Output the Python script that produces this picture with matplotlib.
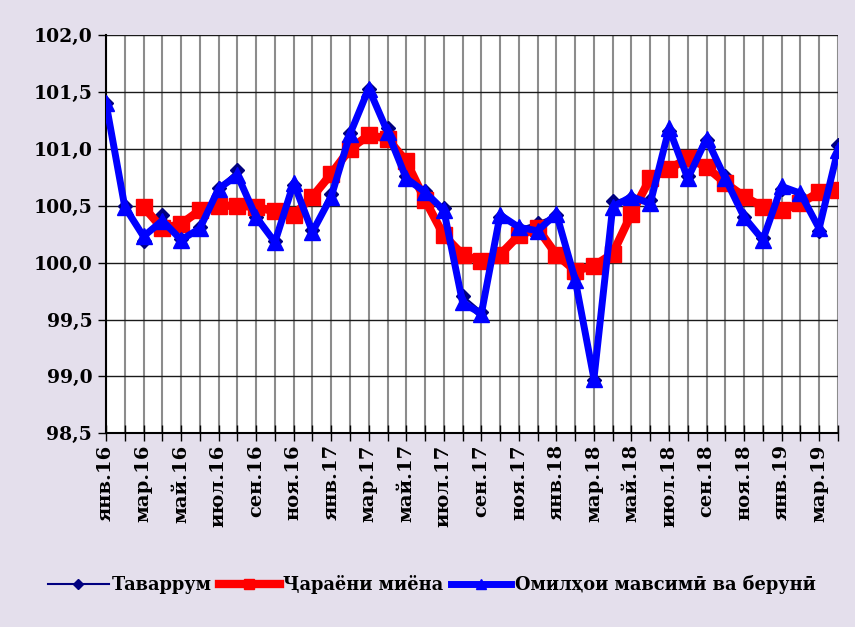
import numpy as np
import matplotlib
matplotlib.use("Agg")
from matplotlib import pyplot as plt
from matplotlib.ticker import FuncFormatter

plt.rcParams['font.family'] = ['DejaVu Serif']

months = ['янв', 'фев', 'мар', 'апр', 'май', 'июн',
          'июл', 'авг', 'сен', 'окт', 'ноя', 'дек']
labels = [m + '.' + y for y in ['16', '17', '18', '19'] for m in months][:40]

tavarrum = [101.40, 100.50, 100.19, 100.42, 100.21, 100.31, 100.66, 100.81,
            100.40, 100.19, 100.68, 100.29, 100.60, 101.14, 101.53, 101.18,
            100.76, 100.63, 100.48, 99.71, 99.57, 100.40, 100.30, 100.35,
            100.42, 99.87, 98.97, 100.54, 100.57, 100.55, 101.16, 100.76,
            101.08, 100.76, 100.40, 100.22, 100.65, 100.59, 100.28, 101.03]

chorayoni = [np.nan, np.nan, 100.49, 100.30, 100.34, 100.46, 100.50, 100.50,
             100.49, 100.45, 100.42, 100.58, 100.78, 101.00, 101.12, 101.09,
             100.89, 100.55, 100.24, 100.07, 100.01, 100.07, 100.24, 100.30,
             100.07, 99.93, 99.97, 100.08, 100.43, 100.74, 100.82, 100.92,
             100.84, 100.70, 100.58, 100.49, 100.46, 100.52, 100.62, 100.64]

omilho = [101.40, 100.49, 100.23, 100.37, 100.20, 100.30, 100.65, 100.77,
          100.40, 100.18, 100.70, 100.27, 100.58, 101.13, 101.53, 101.15,
          100.74, 100.62, 100.46, 99.65, 99.55, 100.42, 100.31, 100.28,
          100.43, 99.85, 98.98, 100.49, 100.58, 100.52, 101.18, 100.74,
          101.09, 100.74, 100.40, 100.20, 100.67, 100.61, 100.30, 100.99]

bg = '#e4dfec'
fig = plt.figure(figsize=(8.55, 6.27), dpi=100, facecolor=bg)
ax = fig.add_axes([0.124, 0.309, 0.856, 0.635])
x = np.arange(len(labels))

ax.plot(x, tavarrum, color='#000080', lw=1.5, marker='D', ms=7,
        label='Таваррум', zorder=3)
ax.plot(x, chorayoni, color='#ff0000', lw=6, marker='s', ms=11,
        label='Ҷараёни миёна', zorder=4)
ax.plot(x, omilho, color='#0000ff', lw=5, marker='^', ms=11,
        label='Омилҳои мавсимӣ ва берунӣ', zorder=5)

ax.set_xlim(0, len(labels) - 1)
ax.set_ylim(98.5, 102.0)
ax.set_yticks(np.arange(98.5, 102.01, 0.5))
ax.yaxis.set_major_formatter(FuncFormatter(lambda v, p: f'{v:.1f}'.replace('.', ',')))
ax.set_xticks(x)
ax.set_xticklabels([l if i % 2 == 0 else '' for i, l in enumerate(labels)],
                   rotation=90, fontsize=14, fontweight='bold')
for t in ax.get_yticklabels():
    t.set_fontsize(13.5)
    t.set_fontweight('bold')

ax.grid(axis='x', color='#8c8c8c', lw=1.5, zorder=1)
ax.grid(axis='y', color='#1a1a1a', lw=1.0, zorder=1)
ax.tick_params(axis='x', direction='inout', length=12, width=1, pad=2)
ax.tick_params(axis='y', direction='out', length=6, width=1, pad=4)
for s in ['top', 'right']:
    ax.spines[s].set_visible(False)
ax.spines['left'].set_linewidth(1.5)
ax.spines['bottom'].set_linewidth(1.5)

fig.legend(loc='center', bbox_to_anchor=(0.505, 0.067), ncol=3, frameon=False,
           prop={'size': 12.8, 'weight': 'bold'}, handlelength=3.4,
           handletextpad=0.2, columnspacing=0.4, markerscale=0.7)

fig.savefig('out.png', dpi=100, facecolor=bg)
